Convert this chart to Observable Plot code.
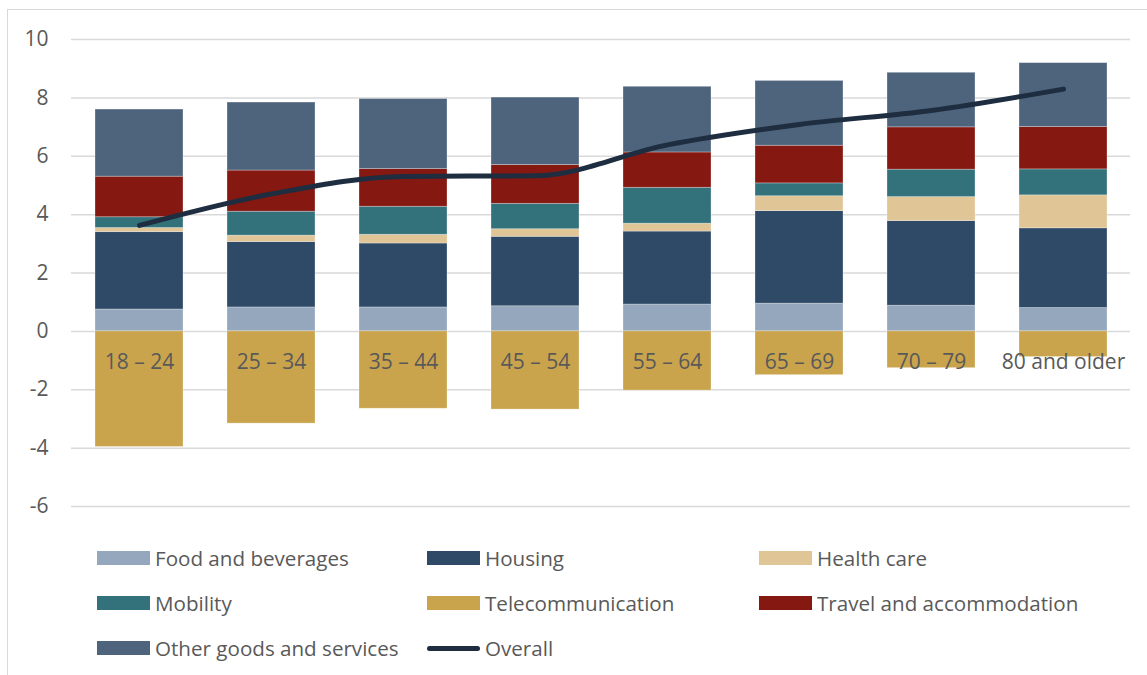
<!DOCTYPE html>
<html>
<head>
<meta charset="utf-8">
<script src="https://cdn.jsdelivr.net/npm/d3@7"></script>
<script src="https://cdn.jsdelivr.net/npm/@observablehq/plot@0.6"></script>
<style>
  html, body { margin: 0; padding: 0; background: #fff; }
  body { width: 1147px; height: 675px; overflow: hidden; position: relative; font-family: "Open Sans", sans-serif; }
  #frame { position: absolute; left: 7px; top: 9px; width: 1300px; height: 800px; border: 1.5px solid #d9d9d9; box-sizing: border-box; }
  #chart { position: absolute; left: 0; top: 0; }
  #legend { position: absolute; left: 0; top: 0; width: 1147px; height: 675px; pointer-events: none; }
  .item { position: absolute; display: flex; align-items: center; font-size: 20.6px; color: #595959; white-space: nowrap; }
  .sw { width: 53px; height: 14px; margin-right: 5px; }
  .ln { width: 53px; height: 5px; border-radius: 3px; margin-right: 5px; }
</style>
</head>
<body>
<div id="frame"></div>
<div id="chart"></div>
<div id="legend"></div>
<script>
const categories = ["18 – 24", "25 – 34", "35 – 44", "45 – 54", "55 – 64", "65 – 69", "70 – 79", "80 and older"];
const series = ["Food and beverages", "Housing", "Health care", "Mobility", "Telecommunication", "Travel and accommodation", "Other goods and services"];
const colors = ["#94a7bc", "#2e4a66", "#e0c597", "#33727a", "#c9a44d", "#861812", "#4e647c"];
const food      = [0.75, 0.82, 0.82, 0.86, 0.92, 0.95, 0.88, 0.80];
const housing   = [2.65, 2.24, 2.19, 2.38, 2.50, 3.17, 2.90, 2.73];
const health    = [0.14, 0.22, 0.30, 0.26, 0.27, 0.51, 0.82, 1.13];
const mobility  = [0.37, 0.82, 0.96, 0.87, 1.23, 0.44, 0.94, 0.89];
const telecom   = [-3.96, -3.16, -2.65, -2.68, -2.03, -1.50, -1.26, -0.88];
const travel    = [1.39, 1.41, 1.29, 1.33, 1.21, 1.29, 1.45, 1.45];
const other     = [2.30, 2.33, 2.40, 2.31, 2.25, 2.22, 1.87, 2.19];
const overall   = [3.63, 4.71, 5.31, 5.33, 6.39, 7.09, 7.57, 8.30];
const yTicks = [-6, -4, -2, 0, 2, 4, 6, 8, 10];

const seriesValues = [food, housing, health, mobility, telecom, travel, other];
const rows = [];
series.forEach((s, si) => {
  categories.forEach((c, ci) => rows.push({category: c, series: s, value: seriesValues[si][ci]}));
});
const lineData = categories.map((c, i) => ({category: c, value: overall[i]}));

const chart = Plot.plot({
  width: 1147,
  height: 525,
  marginTop: 39,
  marginBottom: 19,
  marginLeft: 71,
  marginRight: 17,
  style: {fontFamily: "Open Sans, sans-serif", fontSize: "21px", color: "#595959", background: "transparent"},
  x: {domain: categories, paddingInner: 0.335, paddingOuter: 0.1675, axis: null},
  y: {domain: [-6, 10], ticks: yTicks, axis: null},
  color: {domain: series, range: colors},
  marks: [
    Plot.gridY(yTicks, {stroke: "#d9d9d9", strokeOpacity: 1, strokeWidth: 1.5}),
    Plot.axisY(yTicks, {label: null, tickSize: 0, tickPadding: 0, dx: -23, textAnchor: "end", fill: "#595959", fontSize: 21, tickFormat: d => String(d)}),
    Plot.barY(rows, {x: "category", y: "value", fill: "series", order: series, stroke: "#ffffff", strokeOpacity: 0.35, strokeWidth: 0.8}),
    Plot.text(categories, {x: d => d, y: () => 0, dy: 31, text: d => d, fill: "#595959", fontSize: 21, textAnchor: "middle", lineAnchor: "middle"}),
    Plot.line(lineData, {x: "category", y: "value", stroke: "#1e2d3f", strokeWidth: 5, strokeLinecap: "round", strokeLinejoin: "round", curve: "monotone-x"})
  ]
});
document.getElementById("chart").appendChild(chart);

const legendItems = [
  {label: series[0], color: colors[0], x: 97, y: 558},
  {label: series[1], color: colors[1], x: 427, y: 558},
  {label: series[2], color: colors[2], x: 759, y: 558},
  {label: series[3], color: colors[3], x: 97, y: 603},
  {label: series[4], color: colors[4], x: 427, y: 603},
  {label: series[5], color: colors[5], x: 759, y: 603},
  {label: series[6], color: colors[6], x: 97, y: 648},
  {label: "Overall", color: "#1e2d3f", x: 427, y: 648, line: true}
];
const legend = document.getElementById("legend");
legendItems.forEach(it => {
  const d = document.createElement("div");
  d.className = "item";
  d.style.left = it.x + "px";
  d.style.top = (it.y - 15) + "px";
  d.style.height = "30px";
  const s = document.createElement("span");
  s.className = it.line ? "ln" : "sw";
  s.style.background = it.color;
  d.appendChild(s);
  const t = document.createElement("span");
  t.textContent = it.label;
  d.appendChild(t);
  legend.appendChild(d);
});
</script>
</body>
</html>
